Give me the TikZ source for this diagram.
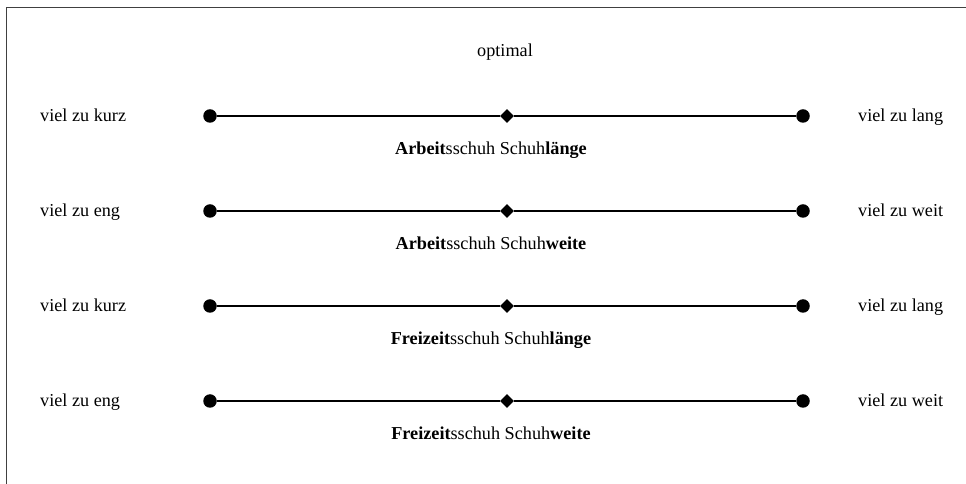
\documentclass[tikz,border=0pt]{standalone}
\usepackage{fontspec}
\setmainfont{Liberation Serif}
\usetikzlibrary{shapes.geometric}
\begin{document}
\begin{tikzpicture}[x=1pt,y=1pt,
  enddot/.style={circle,fill=black,inner sep=0pt,minimum size=13.5pt},
  middia/.style={diamond,fill=black,inner sep=0pt,minimum width=14pt,minimum height=14pt},
  scaleline/.style={line width=1.4pt},
  lbl/.style={font=\fontsize{18.2}{21}\selectfont,inner sep=0pt,anchor=base},
  sidelbl/.style={lbl,anchor=base west}]
\useasboundingbox (0,0) rectangle (966,484);
\draw[line width=1.3pt,black!75] (6.5,0) -- (6.5,476.5) -- (966,476.5);
\node[lbl] (opt) at (505,427) {optimal};
\foreach \i/\y/\l/\r/\a/\b in {
  1/368/viel zu kurz/viel zu lang/Arbeit/länge,
  2/273/viel zu eng/viel zu weit/Arbeit/weite,
  3/178/viel zu kurz/viel zu lang/Freizeit/länge,
  4/83/viel zu eng/viel zu weit/Freizeit/weite}{
  \node[enddot] (a\i) at (210,\y) {};
  \node[middia] (m\i) at (507,\y) {};
  \node[enddot] (b\i) at (803,\y) {};
  \draw[scaleline] (a\i) -- (m\i) -- (b\i);
  \node[sidelbl] (l\i) at (40,\y-5.5) {\l};
  \node[sidelbl] (r\i) at (858,\y-5.5) {\r};
  \node[lbl] (c\i) at (491,\y-39) {\textbf{\a}sschuh Schuh\textbf{\b}};
}
\end{tikzpicture}
\end{document}
